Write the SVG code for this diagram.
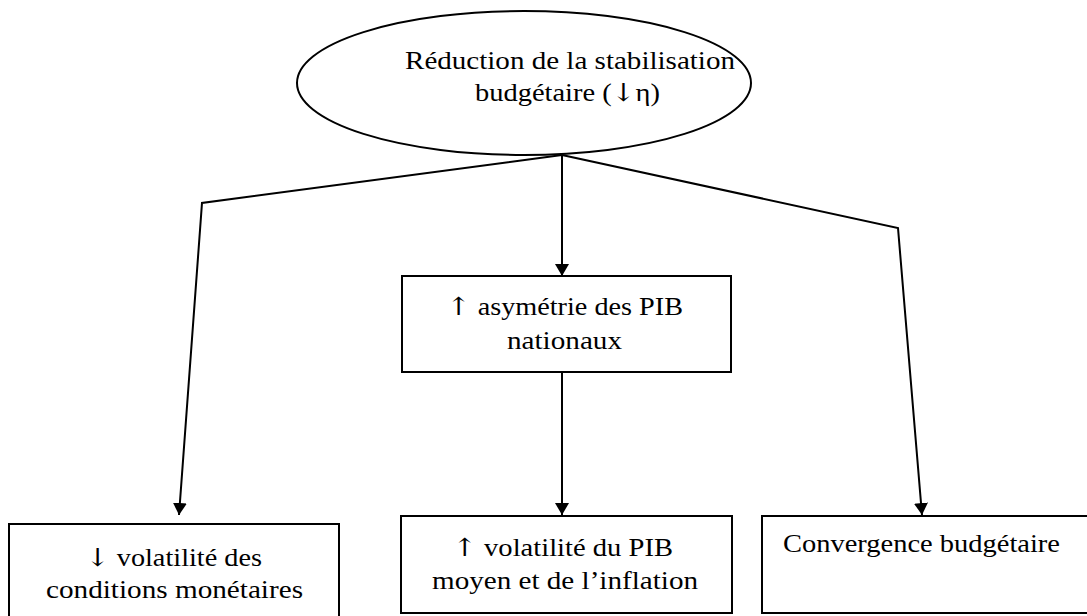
<svg xmlns="http://www.w3.org/2000/svg" width="1087" height="616" viewBox="0 0 1087 616">
<style>
.box{fill:#fff;stroke:#000;stroke-width:2}
.t{font-family:'Liberation Serif','Times New Roman',serif;font-size:25px;fill:#000}
.ar{font-family:'DejaVu Serif','DejaVu Sans',serif;font-size:25px;font-weight:300}
.c{fill:none;stroke:#000;stroke-width:2}
</style>
<defs>
<marker id="ah" viewBox="0 0 12 14" refX="12" refY="7" markerWidth="12" markerHeight="14" markerUnits="userSpaceOnUse" orient="auto">
<path d="M0,0 L12,7 L0,14 Z" fill="#000"/>
</marker>
</defs>
<rect width="1087" height="616" fill="#fff"/>
<g id="connectors">
<polyline class="c" points="562,155 202,203 179,515" marker-end="url(#ah)"/>
<polyline class="c" points="562,155 562,276" marker-end="url(#ah)"/>
<polyline class="c" points="562,155 898,228 922,515" marker-end="url(#ah)"/>
<polyline class="c" points="562,372 562,515" marker-end="url(#ah)"/>
</g>
<g id="n-root">
<ellipse class="box" cx="524" cy="83" rx="227" ry="72"/>
<text class="t" x="405" y="69" textLength="330" lengthAdjust="spacingAndGlyphs">Réduction de la stabilisation</text>
<text class="t" x="475" y="101" textLength="185" lengthAdjust="spacingAndGlyphs">budgétaire (<tspan class="ar">↓</tspan>η)</text>
</g>
<g id="n-asym">
<rect class="box" x="402" y="276" width="329" height="96"/>
<text class="t" x="447" y="315" textLength="236" lengthAdjust="spacingAndGlyphs"><tspan class="ar">↑</tspan> asymétrie des PIB</text>
<text class="t" x="507" y="349" textLength="115" lengthAdjust="spacingAndGlyphs">nationaux</text>
</g>
<g id="n-monet">
<rect class="box" x="9" y="524" width="330" height="100"/>
<text class="t" x="86" y="566" textLength="176" lengthAdjust="spacingAndGlyphs"><tspan class="ar">↓</tspan> volatilité des</text>
<text class="t" x="46" y="598" textLength="257" lengthAdjust="spacingAndGlyphs">conditions monétaires</text>
</g>
<g id="n-pib">
<rect class="box" x="401" y="516" width="331" height="97"/>
<text class="t" x="453" y="556" textLength="220" lengthAdjust="spacingAndGlyphs"><tspan class="ar">↑</tspan> volatilité du PIB</text>
<text class="t" x="432" y="589" textLength="266" lengthAdjust="spacingAndGlyphs">moyen et de l’inflation</text>
</g>
<g id="n-conv">
<rect class="box" x="762" y="516" width="340" height="97"/>
<text class="t" x="783" y="552" textLength="277" lengthAdjust="spacingAndGlyphs">Convergence budgétaire</text>
</g>
</svg>
